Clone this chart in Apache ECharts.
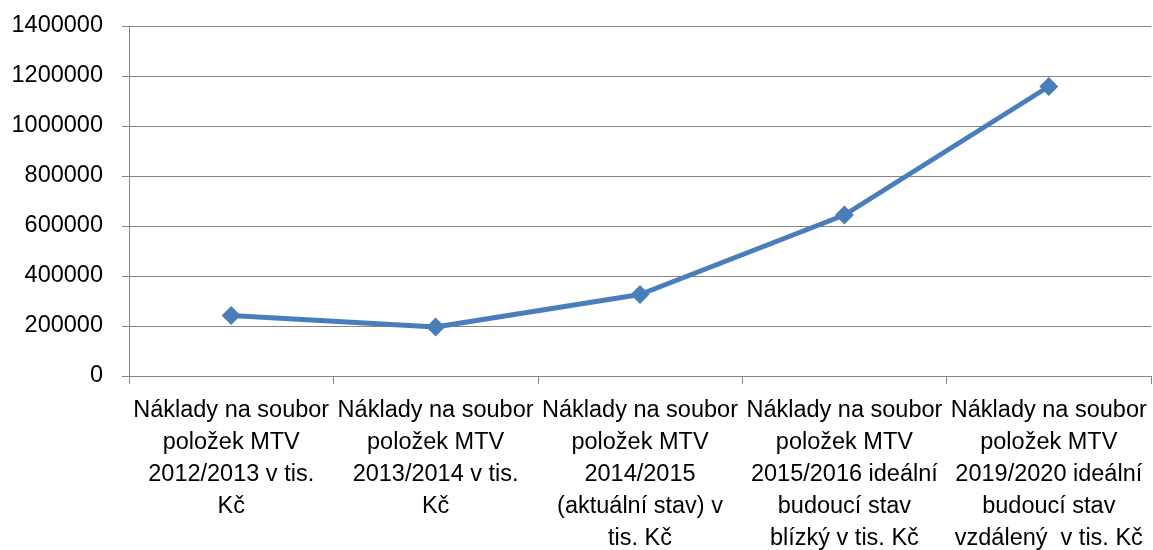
<!DOCTYPE html>
<html lang="cs">
<head>
    <meta charset="UTF-8">
    <title>Náklady na soubor položek MTV</title>
    <script src="https://cdn.jsdelivr.net/npm/echarts@6/dist/echarts.min.js"></script>
    <style>
        html, body { margin: 0; padding: 0; background: #ffffff; }
        #main { width: 1153px; height: 550px; }
    </style>
</head>
<body>
<div id="main"></div>
<script type="text/javascript">
    // kategorie (zalomení řádků podle originálu)
    var categories = [
        'Náklady na soubor\npoložek MTV\n2012/2013 v tis.\nKč',
        'Náklady na soubor\npoložek MTV\n2013/2014 v tis.\nKč',
        'Náklady na soubor\npoložek MTV\n2014/2015\n(aktuální stav) v\ntis. Kč',
        'Náklady na soubor\npoložek MTV\n2015/2016 ideální\nbudoucí stav\nblízký v tis. Kč',
        'Náklady na soubor\npoložek MTV\n2019/2020 ideální\nbudoucí stav\nvzdálený  v tis. Kč'
    ];
    // hodnoty
    var values = [242000, 196000, 326000, 644000, 1158000];
    // osa y
    var yMin = 0, yMax = 1400000, yStep = 200000;

    var myChart = echarts.init(document.getElementById('main'));

    var option = {
        backgroundColor: '#ffffff',
        animation: false,
        grid: {
            left: 129,
            right: 2,
            top: 26,
            bottom: 174,
            outerBoundsMode: 'none'
        },
        xAxis: {
            type: 'category',
            data: categories,
            boundaryGap: true,
            axisLine: { lineStyle: { color: '#868686', width: 1 } },
            axisTick: { show: true, length: 8, lineStyle: { color: '#868686' } },
            axisLabel: {
                interval: 0,
                margin: 19,
                color: '#000000',
                fontFamily: 'Liberation Sans',
                fontSize: 23.5,
                lineHeight: 32,
                align: 'center'
            }
        },
        yAxis: {
            type: 'value',
            min: yMin,
            max: yMax,
            interval: yStep,
            axisLine: { show: true, lineStyle: { color: '#868686', width: 1 } },
            axisTick: { show: true, length: 7, lineStyle: { color: '#868686' } },
            splitLine: { show: true, lineStyle: { color: '#868686', width: 1 } },
            axisLabel: {
                margin: 26,
                color: '#000000',
                fontFamily: 'Liberation Sans',
                fontSize: 23.5,
                formatter: function (v) { return String(v); }
            }
        },
        series: [
            {
                type: 'line',
                data: values,
                symbol: 'diamond',
                symbolSize: 19,
                lineStyle: { color: '#4a7ebb', width: 5 },
                itemStyle: { color: '#4a7ebb' }
            }
        ]
    };

    myChart.setOption(option);
</script>
</body>
</html>
